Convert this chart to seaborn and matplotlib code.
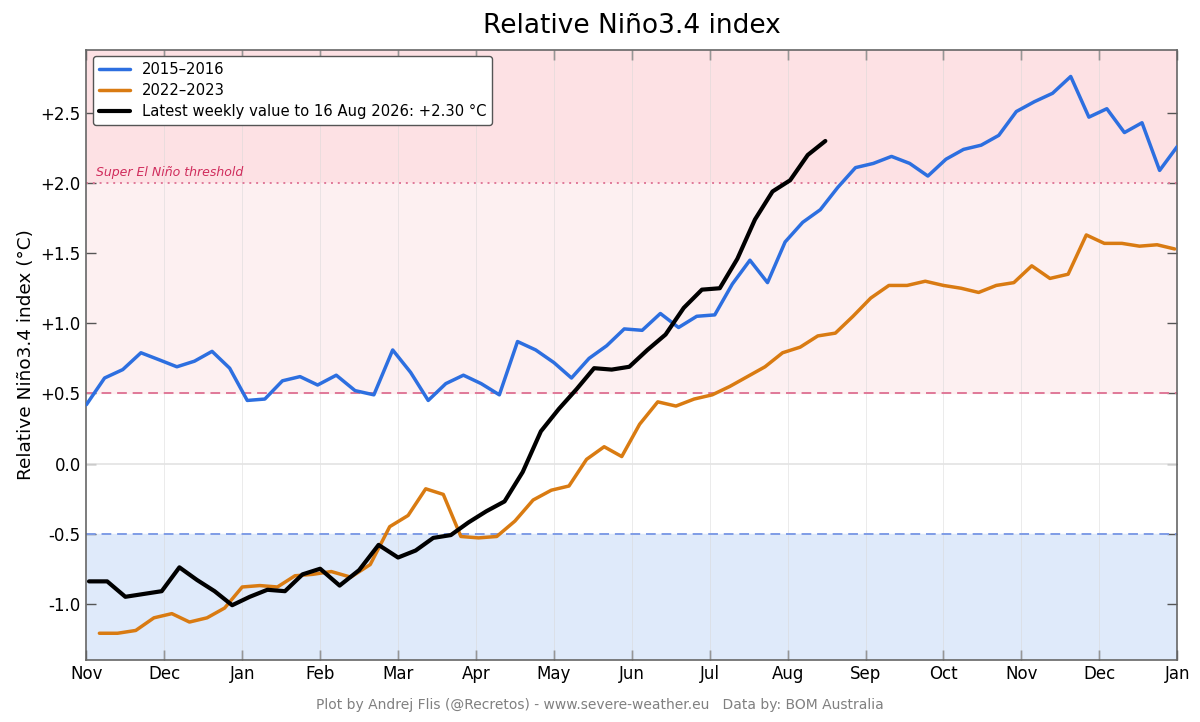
import pandas as pd
import matplotlib.pyplot as plt
import seaborn as sns
import calendar

# Weekly Nino3.4 values
start_2015 = '2015-11-01'
vals_2015 = [0.42, 0.61, 0.67, 0.79, 0.74, 0.69, 0.73, 0.80, 0.68, 0.45,
             0.46, 0.59, 0.62, 0.56, 0.63, 0.52, 0.49, 0.81, 0.65, 0.45,
             0.57, 0.63, 0.57, 0.49, 0.87, 0.81, 0.72, 0.61, 0.75, 0.84,
             0.96, 0.95, 1.07, 0.97, 1.05, 1.06, 1.28, 1.45, 1.29, 1.58,
             1.72, 1.81, 1.97, 2.11, 2.14, 2.19, 2.14, 2.05, 2.17, 2.24,
             2.27, 2.34, 2.51, 2.58, 2.64, 2.76, 2.47, 2.53, 2.36, 2.43,
             2.09, 2.26]

start_2022 = '2022-11-06'
vals_2022 = [-1.21, -1.21, -1.19, -1.10, -1.07, -1.13, -1.10, -1.03, -0.88, -0.87,
             -0.88, -0.80, -0.79, -0.77, -0.81, -0.72, -0.45, -0.37, -0.18, -0.22,
             -0.52, -0.53, -0.52, -0.41, -0.26, -0.19, -0.16, 0.03, 0.12, 0.05,
             0.28, 0.44, 0.41, 0.46, 0.49, 0.55, 0.62, 0.69, 0.79, 0.83,
             0.91, 0.93, 1.05, 1.18, 1.27, 1.27, 1.30, 1.27, 1.25, 1.22,
             1.27, 1.29, 1.41, 1.32, 1.35, 1.63, 1.57, 1.57, 1.55, 1.56,
             1.53]

start_2025 = '2025-11-02'
vals_2025 = [-0.84, -0.84, -0.95, -0.93, -0.91, -0.74, -0.83, -0.91, -1.01, -0.95,
             -0.90, -0.91, -0.79, -0.75, -0.87, -0.76, -0.58, -0.67, -0.62, -0.53,
             -0.51, -0.42, -0.34, -0.27, -0.06, 0.23, 0.39, 0.53, 0.68, 0.67,
             0.69, 0.81, 0.92, 1.11, 1.24, 1.25, 1.46, 1.74, 1.94, 2.02,
             2.20, 2.30]

month_labels = ['Nov', 'Dec', 'Jan', 'Feb', 'Mar', 'Apr', 'May', 'Jun',
                'Jul', 'Aug', 'Sep', 'Oct', 'Nov', 'Dec', 'Jan']
y_ticks = [-1.0, -0.5, 0.0, 0.5, 1.0, 1.5, 2.0, 2.5]


def season_month(d, y0):
    # months since 1 Nov of the season's first year, each month equal width
    ndays = calendar.monthrange(d.year, d.month)[1]
    return (d.year - y0) * 12 + d.month - 11 + (d.day - 1) / ndays


def make_df(start, vals):
    dates = pd.date_range(start, periods=len(vals), freq='7D')
    y0 = dates[0].year
    return pd.DataFrame({'x': [season_month(d, y0) for d in dates], 'value': vals})


df15 = make_df(start_2015, vals_2015)
df22 = make_df(start_2022, vals_2022)
df25 = make_df(start_2025, vals_2025)

sns.set_style('white')
plt.rcParams['font.family'] = ['DejaVu Sans']
plt.rcParams['text.color'] = 'black'
plt.rcParams['axes.labelcolor'] = 'black'
plt.rcParams['xtick.color'] = 'black'
plt.rcParams['ytick.color'] = 'black'

fig, ax = plt.subplots(figsize=(12, 7.22), dpi=100)
fig.subplots_adjust(left=0.072, right=0.981, bottom=0.086, top=0.931)

y_min, y_max = -1.4, 2.95

# background bands
ax.axhspan(2.0, y_max, color='#fde1e4', zorder=0)
ax.axhspan(0.5, 2.0, color='#fdf0f1', zorder=0)
ax.axhspan(y_min, -0.5, color='#dfeafa', zorder=0)

for m in range(1, 14):
    ax.axvline(m, color='#d8d8d8', lw=0.6, alpha=0.6, zorder=1)
ax.axhline(0, color='#e3e3e3', lw=1.2, zorder=1)
ax.axhline(0.5, color='#e07898', lw=1.4, ls=(0, (5, 3)), zorder=2)
ax.axhline(-0.5, color='#7f9ce6', lw=1.4, ls=(0, (5, 3)), zorder=2)
ax.axhline(2.0, color='#e07898', lw=1.4, ls=(0, (1, 2.5)), zorder=2)
ax.text(0.12, 2.03, 'Super El Niño threshold', color='#d02c5c',
        fontsize=9, fontstyle='italic', va='bottom', ha='left')

sns.lineplot(data=df15, x='x', y='value', ax=ax, color='#2d6fe0', lw=2.5,
             label='2015\u20132016', zorder=3)
sns.lineplot(data=df22, x='x', y='value', ax=ax, color='#d97b12', lw=2.5,
             label='2022\u20132023', zorder=3)
sns.lineplot(data=df25, x='x', y='value', ax=ax, color='black', lw=3,
             label=f'Latest weekly value to 16 Aug 2026: {vals_2025[-1]:+.2f} °C', zorder=4)

ax.set_xlim(0, 14)
ax.set_ylim(y_min, y_max)
ax.set_xticks(range(15))
ax.set_xticklabels(month_labels, fontsize=12)
ax.set_yticks(y_ticks)
ax.set_yticklabels(['0.0' if v == 0 else f'{v:+.1f}' for v in y_ticks], fontsize=12)
ax.set_xlabel('')
ax.set_ylabel('Relative Niño3.4 index (°C)', fontsize=13.3)
ax.set_title('Relative Niño3.4 index', fontsize=19, pad=12)

ax.tick_params(axis='both', direction='in', top=True, right=True, left=True, bottom=True,
               length=7, width=1, color='#555555', pad=4)
for side in ['left', 'right', 'top', 'bottom']:
    ax.spines[side].set_color('#666666')
    ax.spines[side].set_linewidth(1.2)

leg = ax.legend(loc='upper left', fontsize=10.6, frameon=True, fancybox=True,
                borderaxespad=0.45, handlelength=2.1, labelspacing=0.4)
leg.get_frame().set_edgecolor('#555555')
leg.get_frame().set_facecolor('white')
leg.get_frame().set_alpha(1)
leg.set_zorder(10)

fig.text(0.5, 0.024, 'Plot by Andrej Flis (@Recretos) - www.severe-weather.eu   Data by: BOM Australia',
         ha='center', va='center', fontsize=10, color='#808080')

plt.savefig('out.png', dpi=100)
plt.close()
